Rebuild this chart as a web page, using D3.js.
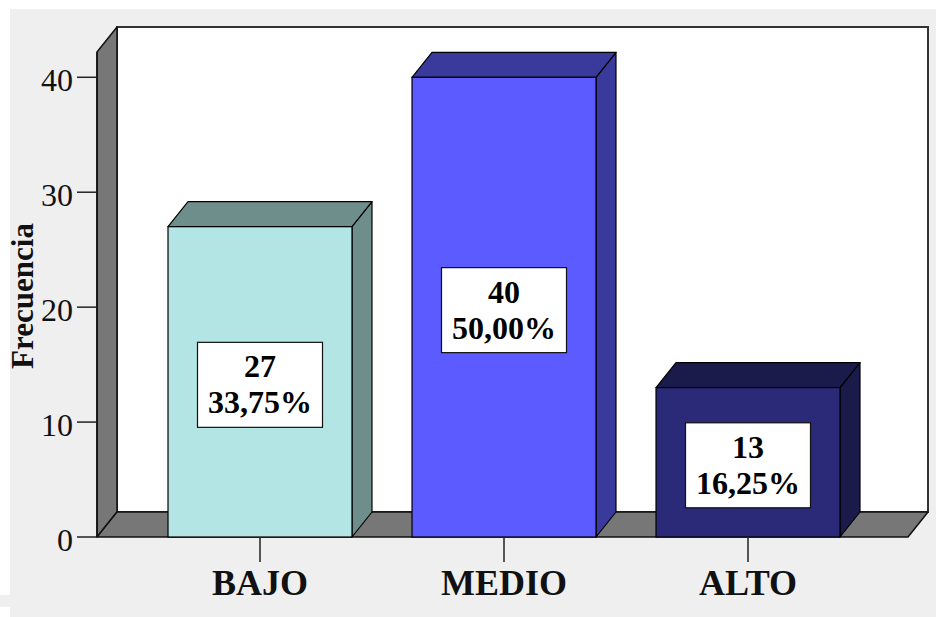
<!DOCTYPE html>
<html>
<head>
<meta charset="utf-8">
<script src="https://cdn.jsdelivr.net/npm/d3@7"></script>
<style>
  html, body { margin: 0; padding: 0; background: #ffffff; }
  svg { display: block; }
</style>
</head>
<body>
<svg id="chart" width="936" height="617"></svg>
<script>
// ---- data ----
const categories = ["BAJO", "MEDIO", "ALTO"];
const frequencies = [27, 40, 13];
const percentLabels = ["33,75%", "50,00%", "16,25%"];
const yTicks = [0, 10, 20, 30, 40];
const yTitle = "Frecuencia";
const frontColors = ["#b3e5e5", "#5b5bff", "#2a2a78"];
const shadeColors = ["#6e8e8b", "#3a3a9c", "#1b1b4b"];

// ---- layout ----
const svg = d3.select("#chart");
const serif = "'Liberation Serif', serif";
const x0 = 97, x1 = 908, yBase = 537, yTop = 52;
const dx = 20, dy = -25;

const y = d3.scaleLinear().domain([0, 42.2]).range([yBase, yTop]);
const x = d3.scaleBand().domain(categories).range([138, 870])
  .paddingInner(0.246).paddingOuter(0.123);

// page background
svg.append("rect").attr("x", 10).attr("y", 9).attr("width", 926).attr("height", 608).attr("fill", "#efefef");
svg.append("rect").attr("x", 0).attr("y", 595).attr("width", 10).attr("height", 12).attr("fill", "#efefef");

const pts = a => a.map(p => p.join(",")).join(" ");

// back wall
svg.append("rect").attr("x", x0 + dx).attr("y", yTop + dy)
  .attr("width", x1 - x0).attr("height", yBase - yTop)
  .attr("fill", "#ffffff").attr("stroke", "#333").attr("stroke-width", 2);

// left wall
svg.append("polygon")
  .attr("points", pts([[x0, yBase], [x0, yTop], [x0 + dx, yTop + dy], [x0 + dx, yBase + dy]]))
  .attr("fill", "#777777").attr("stroke", "#111").attr("stroke-width", 1.5).attr("stroke-linejoin", "round");

// floor
svg.append("polygon")
  .attr("points", pts([[x0, yBase], [x1, yBase], [x1 + dx, yBase + dy], [x0 + dx, yBase + dy]]))
  .attr("fill", "#777777").attr("stroke", "#111").attr("stroke-width", 1.5).attr("stroke-linejoin", "round");

// bars
const bars = svg.append("g");
categories.forEach((c, i) => {
  const bx = x(c), bw = x.bandwidth(), by = y(frequencies[i]);
  const g = bars.append("g");
  g.append("polygon")
    .attr("points", pts([[bx + bw, yBase], [bx + bw, by], [bx + bw + dx, by + dy], [bx + bw + dx, yBase + dy]]))
    .attr("fill", shadeColors[i]).attr("stroke", "#000").attr("stroke-width", 1.2).attr("stroke-linejoin", "round");
  g.append("polygon")
    .attr("points", pts([[bx, by], [bx + bw, by], [bx + bw + dx, by + dy], [bx + dx, by + dy]]))
    .attr("fill", shadeColors[i]).attr("stroke", "#000").attr("stroke-width", 1.2).attr("stroke-linejoin", "round");
  g.append("rect").attr("x", bx).attr("y", by).attr("width", bw).attr("height", yBase - by)
    .attr("fill", frontColors[i]).attr("stroke", "#000").attr("stroke-width", 1.2);

  const cx = bx + bw / 2, cy = (by + yBase) / 2 + 3;
  const boxW = 125, boxH = 85;
  g.append("rect").attr("x", cx - boxW / 2).attr("y", cy - boxH / 2)
    .attr("width", boxW).attr("height", boxH)
    .attr("fill", "#ffffff").attr("stroke", "#111").attr("stroke-width", 1.2);
  g.append("text").attr("text-anchor", "middle").attr("x", cx).attr("y", cy - boxH / 2 + 35)
    .attr("font-family", serif).attr("font-weight", "bold").attr("font-size", 32).attr("fill", "#000")
    .text(frequencies[i]);
  g.append("text").attr("text-anchor", "middle").attr("x", cx).attr("y", cy - boxH / 2 + 71)
    .attr("font-family", serif).attr("font-weight", "bold").attr("font-size", 32).attr("fill", "#000")
    .text(percentLabels[i]);
});

// y axis
const yAxis = svg.append("g");
yAxis.append("line").attr("x1", x0).attr("x2", x0).attr("y1", yTop).attr("y2", yBase)
  .attr("stroke", "#111").attr("stroke-width", 1.5);
yTicks.forEach(v => {
  yAxis.append("line").attr("x1", x0 - 20).attr("x2", x0).attr("y1", y(v)).attr("y2", y(v))
    .attr("stroke", "#222").attr("stroke-width", 1.5);
  yAxis.append("text").attr("x", x0 - 24).attr("y", y(v) + 14)
    .attr("text-anchor", "end").attr("font-family", serif).attr("font-size", 32).attr("fill", "#111")
    .text(v);
});

// x axis
const xAxis = svg.append("g");
categories.forEach(c => {
  const cx = x(c) + x.bandwidth() / 2;
  xAxis.append("line").attr("x1", cx).attr("x2", cx).attr("y1", yBase).attr("y2", yBase + 25)
    .attr("stroke", "#222").attr("stroke-width", 1.5);
  xAxis.append("text").attr("x", cx).attr("y", 595).attr("text-anchor", "middle")
    .attr("font-family", serif).attr("font-weight", "bold").attr("font-size", 36).attr("fill", "#111")
    .text(c);
});

// y title
svg.append("text").attr("transform", "translate(33,296) rotate(-90)")
  .attr("text-anchor", "middle").attr("font-family", serif).attr("font-weight", "bold")
  .attr("font-size", 31).attr("fill", "#111").text(yTitle);
</script>
</body>
</html>
